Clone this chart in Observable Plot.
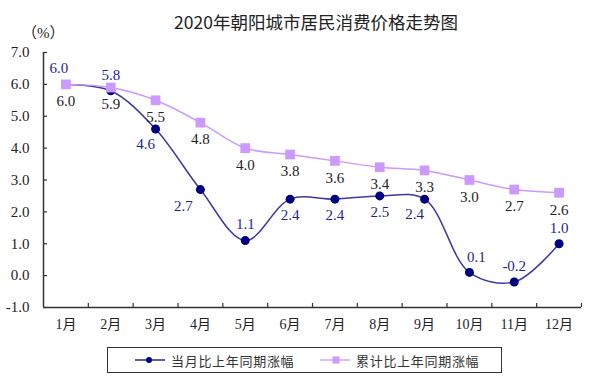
<!DOCTYPE html>
<html>
<head>
<meta charset="utf-8">
<script src="https://cdn.jsdelivr.net/npm/d3@7"></script>
<script src="https://cdn.jsdelivr.net/npm/@observablehq/plot@0.6"></script>
<style>
  html, body { margin: 0; padding: 0; background: #fff; }
  #wrap { position: relative; width: 609px; height: 384px; overflow: hidden; }
  #title { position: absolute; left: 0; width: 632px; top: 9px; text-align: center;
    font-family: "Noto Sans CJK SC", sans-serif; font-size: 17.5px; color: #222; }
  #unit { position: absolute; left: 22px; top: 21px; font-family: "Liberation Serif", "Noto Sans CJK SC", serif;
    font-size: 15px; color: #222; }
  #chart { position: absolute; left: 0; top: 0; }
  #legend { position: absolute; left: 107px; top: 347px; width: 395px; height: 26px; border: 1px solid #333;
    box-sizing: border-box; font-family: "Noto Sans CJK SC", sans-serif; font-size: 13px; color: #333;
    letter-spacing: 0.7px; }
  .item { position: absolute; top: 0; height: 24px; display: flex; align-items: center; }
  .item svg { margin-right: 6px; }
</style>
</head>
<body>
<div id="wrap">
  <div id="chart"></div>
  <div id="title">2020年朝阳城市居民消费价格走势图</div>
  <div id="unit">（%）</div>
  <div id="legend"></div>
</div>
<script>
const months = ["1月","2月","3月","4月","5月","6月","7月","8月","9月","10月","11月","12月"];
const monthly = [6.0, 5.8, 4.6, 2.7, 1.1, 2.4, 2.4, 2.5, 2.4, 0.1, -0.2, 1.0];
const cumulative = [6.0, 5.9, 5.5, 4.8, 4.0, 3.8, 3.6, 3.4, 3.3, 3.0, 2.7, 2.6];
const yTicks = [-1, 0, 1, 2, 3, 4, 5, 6, 7];
const seriesNames = ["当月比上年同期涨幅", "累计比上年同期涨幅"];

const blueLine = "#3a3aa0", blueDot = "#000080", blueText = "#1f1f95";
const purple = "#cc99ff";

const W = 609, H = 340, mL = 43, mR = 28, mT = 52, mB = 33;
const innerW = W - mL - mR, innerH = H - mT - mB;

const rows = months.map((m, k) => ({i: k + 1, m, monthly: monthly[k], cum: cumulative[k]}));
const idx = months.map((m, k) => k + 1);
const bounds = idx.map(i => i + 0.5);
const fmt = d3.formatLocale({decimal: ".", thousands: ",", grouping: [3], currency: ["", ""], minus: "-"}).format(".1f");
const pick = list => rows.filter(r => list.includes(r.i));

const labelFont = {fontSize: 15, fontFamily: "Liberation Serif, serif"};

const plot = Plot.plot({
  width: W, height: H,
  marginLeft: mL, marginRight: mR, marginTop: mT, marginBottom: mB,
  style: {fontFamily: "'Liberation Serif', 'Noto Sans CJK SC', serif", fontSize: "14px", color: "#222", background: "transparent"},
  x: {type: "linear", domain: [0.5, 12.5], label: null},
  y: {domain: [-1, 7], label: null},
  marks: [
    Plot.axisY({ticks: yTicks, tickSize: 0, tickPadding: 14, tickFormat: fmt, fontSize: 15}),
    Plot.axisX({ticks: idx, tickSize: 0, tickPadding: 12, tickFormat: i => months[i - 1], fontSize: 14}),
    Plot.tickY(yTicks, {y: d => d, insetRight: innerW - 4, stroke: "#333", strokeWidth: 1.2}),
    Plot.tickX(bounds, {x: d => d, insetTop: innerH - 4, stroke: "#333", strokeWidth: 1.2}),
    Plot.ruleX([0.5], {stroke: "#333", strokeWidth: 1.5}),
    Plot.ruleY([-1], {stroke: "#333", strokeWidth: 1.5}),
    Plot.line(rows, {x: "i", y: "monthly", stroke: blueLine, strokeWidth: 1.5, curve: "catmull-rom"}),
    Plot.dot(rows, {x: "i", y: "monthly", r: 4.5, fill: blueDot, stroke: "none"}),
    Plot.line(rows, {x: "i", y: "cum", stroke: purple, strokeWidth: 1.5, curve: "catmull-rom"}),
    Plot.dot(rows, {x: "i", y: "cum", symbol: "square", r: 5.5, fill: purple, stroke: "none"}),
    // cumulative labels (below points)
    Plot.text(rows, {x: "i", y: "cum", text: d => fmt(d.cum), dy: 17, fill: "#222", ...labelFont}),
    // monthly labels
    Plot.text(pick([2, 5, 11, 12]), {x: "i", y: "monthly", text: d => fmt(d.monthly), dy: -16, fill: blueText, ...labelFont}),
    Plot.text(pick([1]), {x: "i", y: "monthly", text: d => fmt(d.monthly), dy: -16, dx: -7, fill: blueText, ...labelFont}),
    Plot.text(pick([10]), {x: "i", y: "monthly", text: d => fmt(d.monthly), dy: -15, dx: 7, fill: blueText, ...labelFont}),
    Plot.text(pick([6, 7, 8]), {x: "i", y: "monthly", text: d => fmt(d.monthly), dy: 16, fill: blueText, ...labelFont}),
    Plot.text(pick([3, 9]), {x: "i", y: "monthly", text: d => fmt(d.monthly), dy: 15, dx: -10, fill: blueText, ...labelFont}),
    Plot.text(pick([4]), {x: "i", y: "monthly", text: d => fmt(d.monthly), dy: 17, dx: -17, fill: blueText, ...labelFont})
  ]
});
document.getElementById("chart").appendChild(plot);

// legend
const legend = document.getElementById("legend");
const items = [
  {name: seriesNames[0], left: 27, line: "#000080", mark: `<circle cx="14" cy="6" r="3" fill="${blueDot}"/>`},
  {name: seriesNames[1], left: 212, line: purple, mark: `<rect x="12.5" y="2.5" width="7" height="7" fill="${purple}"/>`}
];
for (const it of items) {
  const div = document.createElement("div");
  div.className = "item";
  div.style.left = it.left + "px";
  div.innerHTML = `<svg width="30" height="12"><line x1="0" y1="6" x2="30" y2="6" stroke="${it.line}" stroke-width="1.3"/>${it.mark}</svg><span>${it.name}</span>`;
  legend.appendChild(div);
}
</script>
</body>
</html>
